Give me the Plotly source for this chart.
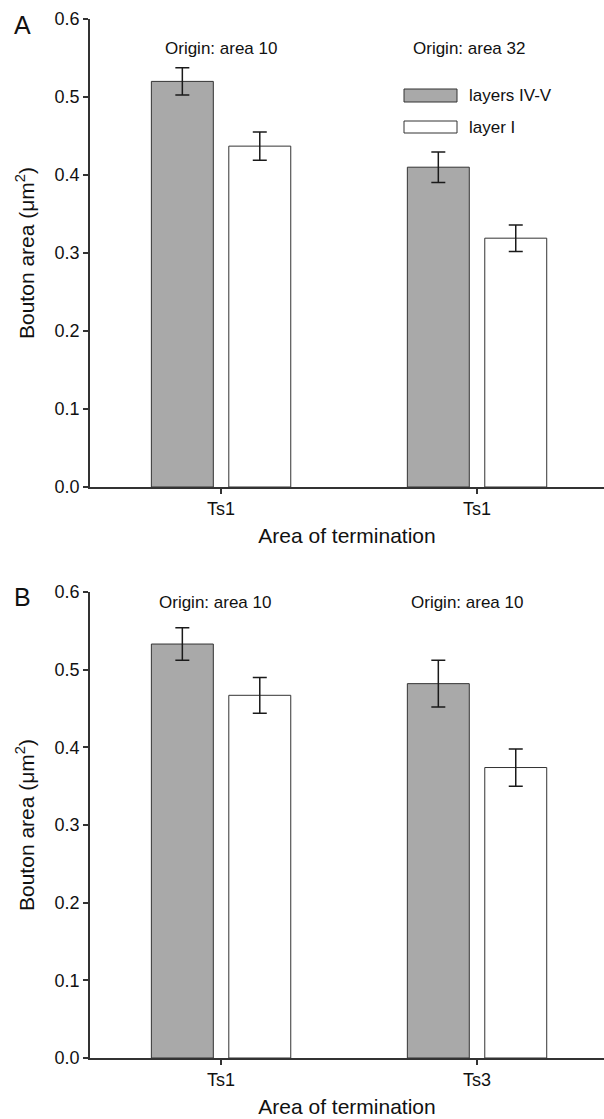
import plotly.graph_objects as go

# ---- data ----
cats_A = ["Ts1", "Ts1"]
cats_B = ["Ts1", "Ts3"]
origin_A = ["Origin: area 10", "Origin: area 32"]
origin_B = ["Origin: area 10", "Origin: area 10"]
series_names = ["layers IV-V", "layer I"]

A_deep = [0.520, 0.410]
A_deep_err = [0.0175, 0.0195]
A_l1 = [0.437, 0.319]
A_l1_err = [0.018, 0.017]

B_deep = [0.533, 0.482]
B_deep_err = [0.021, 0.030]
B_l1 = [0.467, 0.374]
B_l1_err = [0.023, 0.024]

y_ticks = [0.0, 0.1, 0.2, 0.3, 0.4, 0.5, 0.6]

# ---- style ----
W, H = 604, 1119
FONT = "Arial, Liberation Sans, sans-serif"
GRAY = "#a9a9a9"
LINE = "#333333"
xpos = [0, 1]

def py(p):
    return 1 - p / H

fig = go.Figure()

def add_panel(deep, deep_err, l1, l1_err, xa, ya):
    fig.add_trace(go.Bar(
        x=xpos, y=deep, name=series_names[0], xaxis=xa, yaxis=ya,
        marker=dict(color=GRAY, line=dict(color=LINE, width=1)),
        error_y=dict(type="data", array=deep_err, color="#1a1a1a", thickness=1.5, width=7),
        showlegend=False))
    fig.add_trace(go.Bar(
        x=xpos, y=l1, name=series_names[1], xaxis=xa, yaxis=ya,
        marker=dict(color="white", line=dict(color=LINE, width=1)),
        error_y=dict(type="data", array=l1_err, color="#1a1a1a", thickness=1.5, width=7),
        showlegend=False))

add_panel(A_deep, A_deep_err, A_l1, A_l1_err, "x", "y")
add_panel(B_deep, B_deep_err, B_l1, B_l1_err, "x2", "y2")

xrange = [-0.512, 1.496]
xdom = [90 / W, 1.0]

axis_common = dict(
    showline=True, linecolor=LINE, linewidth=1.5, ticks="outside", ticklen=5,
    tickwidth=1.5, tickcolor=LINE, showgrid=False, zeroline=False, automargin=False,
    tickfont=dict(family=FONT, size=18, color="#111"),
)

def xaxis_cfg(labels, anchor):
    d = dict(axis_common)
    d.update(domain=xdom, range=xrange, tickvals=xpos, ticktext=labels, anchor=anchor,
             title=dict(text="Area of termination", font=dict(family=FONT, size=21, color="#111"), standoff=10))
    return d

def yaxis_cfg(dom, anchor):
    d = dict(axis_common)
    d.update(domain=dom, range=[0, 0.6], tickvals=y_ticks, ticktext=[f"{v:.1f}" for v in y_ticks], anchor=anchor,
             title=dict(text="Bouton area (\u03bcm<sup>2</sup>)", font=dict(family=FONT, size=21, color="#111"), standoff=14))
    return d

fig.update_layout(
    width=W, height=H, margin=dict(l=0, r=0, t=0, b=0),
    paper_bgcolor="white", plot_bgcolor="white",
    barmode="group", bargap=0.395, bargroupgap=0.2,
    xaxis=xaxis_cfg(cats_A, "y"),
    yaxis=yaxis_cfg([py(487), py(19)], "x"),
    xaxis2=xaxis_cfg(cats_B, "y2"),
    yaxis2=yaxis_cfg([py(1058), py(592)], "x2"),
    font=dict(family=FONT, color="#111"),
)

ann = []
# panel letters
ann.append(dict(text="A", x=22 / W, y=py(25), xref="paper", yref="paper", showarrow=False,
                font=dict(family=FONT, size=25, color="#111"), xanchor="center", yanchor="middle"))
ann.append(dict(text="B", x=22 / W, y=py(597), xref="paper", yref="paper", showarrow=False,
                font=dict(family=FONT, size=25, color="#111"), xanchor="center", yanchor="middle"))
# origins
for i, t in enumerate(origin_A):
    ann.append(dict(text=t, x=xpos[i] - (0.03 if i == 1 else 0), y=0.562, xref="x", yref="y", showarrow=False,
                    font=dict(family=FONT, size=17, color="#111"), xanchor="center", yanchor="middle"))
for i, t in enumerate(origin_B):
    ann.append(dict(text=t, x=xpos[i] - (0.04 if i == 1 else 0.025), y=0.586, xref="x2", yref="y2", showarrow=False,
                    font=dict(family=FONT, size=17, color="#111"), xanchor="center", yanchor="middle"))
# legend text
ann.append(dict(text=series_names[0], x=467 / W, y=py(95), xref="paper", yref="paper", showarrow=False,
                font=dict(family=FONT, size=17, color="#111"), xanchor="left", yanchor="middle"))
ann.append(dict(text=series_names[1], x=467 / W, y=py(127), xref="paper", yref="paper", showarrow=False,
                font=dict(family=FONT, size=17, color="#111"), xanchor="left", yanchor="middle"))

shapes = [
    dict(type="rect", xref="paper", yref="paper", x0=404 / W, x1=457 / W, y0=py(102), y1=py(89),
         fillcolor=GRAY, line=dict(color=LINE, width=1)),
    dict(type="rect", xref="paper", yref="paper", x0=404 / W, x1=457 / W, y0=py(133), y1=py(121),
         fillcolor="white", line=dict(color=LINE, width=1)),
]

fig.update_layout(annotations=ann, shapes=shapes)
fig.write_html("out.html")
